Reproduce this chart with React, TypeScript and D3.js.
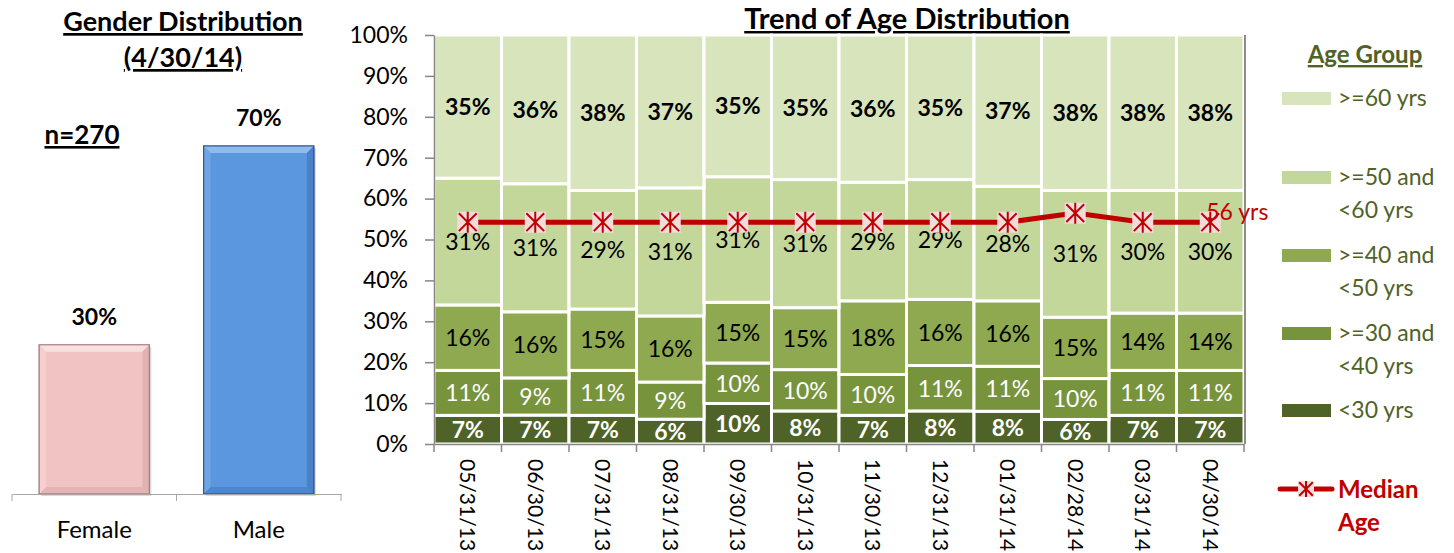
import * as d3 from "d3";
import { useEffect, useRef } from "react";

// Gender chart data
const genderCats = ["Female", "Male"];
const genderVals = [0.3, 0.7];

// Age distribution data (percent, bottom to top)
const dates = [
  "05/31/13", "06/30/13", "07/31/13", "08/31/13", "09/30/13", "10/31/13",
  "11/30/13", "12/31/13", "01/31/14", "02/28/14", "03/31/14", "04/30/14"
];
const under30 = [7, 7, 7, 6, 10, 8, 7, 8, 8, 6, 7, 7];
const age30to40 = [11, 9, 11, 9, 10, 10, 10, 11, 11, 10, 11, 11];
const age40to50 = [16, 16, 15, 16, 15, 15, 18, 16, 16, 15, 14, 14];
const age50to60 = [31, 31, 29, 31, 31, 31, 29, 29, 28, 31, 30, 30];
const over60 = [35, 36, 38, 37, 35, 35, 36, 35, 37, 38, 38, 38];
const medianAge = [56, 56, 56, 56, 56, 56, 56, 56, 56, 57, 56, 56];

const yTicks = [0, 0.1, 0.2, 0.3, 0.4, 0.5, 0.6, 0.7, 0.8, 0.9, 1];

const groupKeys = ["u30", "a30", "a40", "a50", "o60"];
const groupColors = ["#4F6228", "#77933C", "#8EA94F", "#C4D79B", "#D8E4BC"];
const legendLines = [
  [">=60 yrs"],
  [">=50 and", "<60 yrs"],
  [">=40 and", "<50 yrs"],
  [">=30 and", "<40 yrs"],
  ["<30 yrs"],
];

const FONT = "Lato, 'Open Sans', sans-serif";
const RED = "#C00000";
const OLIVE = "#4F6228";

const drawChart = (el: SVGSVGElement) => {
  const svg = d3.select(el);
  svg.selectAll("*").remove();
  svg.style("font-family", FONT);

  // ---------- Gender distribution ----------
  const g1 = svg.append("g");
  const gx = d3.scaleBand().domain(genderCats).range([12, 341]).paddingInner(0.33).paddingOuter(0.165);
  const gy = d3.scaleLinear().domain([0, 0.7]).range([494, 146]);

  g1.append("text").attr("x", 183).attr("y", 31).attr("text-anchor", "middle")
    .style("font-size", "27px").style("font-weight", "bold").style("text-decoration", "underline")
    .text("Gender Distribution");
  g1.append("text").attr("x", 183).attr("y", 67).attr("text-anchor", "middle")
    .style("font-size", "27px").style("font-weight", "bold").style("text-decoration", "underline")
    .text("(4/30/14)");
  g1.append("text").attr("x", 82).attr("y", 144).attr("text-anchor", "middle")
    .style("font-size", "26px").style("font-weight", "bold").style("text-decoration", "underline")
    .text("n=270");

  const palette = [
    { main: "#F2C3C3", light: "#F9E0E0", dark: "#D6A6A6", edge: "#A77C7C" },
    { main: "#5B97DE", light: "#8FBBEE", dark: "#3F75BA", edge: "#2C5590" },
  ];
  const bev = 7;
  genderCats.forEach((c, i) => {
    const x0 = gx(c)!;
    const w = gx.bandwidth();
    const y0 = gy(genderVals[i]);
    const h = gy(0) - y0;
    const p = palette[i];
    g1.append("rect").attr("x", x0 + 2).attr("y", y0 + 2).attr("width", w).attr("height", h)
      .attr("fill", "#000").attr("opacity", 0.15);
    g1.append("rect").attr("x", x0).attr("y", y0).attr("width", w).attr("height", h)
      .attr("fill", p.main).attr("stroke", p.edge).attr("stroke-width", 1);
    const pts = (a: number[][]) => a.map(q => q.join(",")).join(" ");
    g1.append("polygon").attr("fill", p.light)
      .attr("points", pts([[x0, y0], [x0 + w, y0], [x0 + w - bev, y0 + bev], [x0 + bev, y0 + bev]]));
    g1.append("polygon").attr("fill", p.dark).attr("opacity", 0.6)
      .attr("points", pts([[x0 + w, y0], [x0 + w, y0 + h], [x0 + w - bev, y0 + h - bev], [x0 + w - bev, y0 + bev]]));
    g1.append("polygon").attr("fill", p.dark).attr("opacity", 0.5)
      .attr("points", pts([[x0, y0 + h], [x0 + w, y0 + h], [x0 + w - bev, y0 + h - bev], [x0 + bev, y0 + h - bev]]));
    g1.append("polygon").attr("fill", p.light).attr("opacity", 0.4)
      .attr("points", pts([[x0, y0], [x0 + bev, y0 + bev], [x0 + bev, y0 + h - bev], [x0, y0 + h]]));
    g1.append("rect").attr("x", x0).attr("y", y0).attr("width", w).attr("height", h)
      .attr("fill", "none").attr("stroke", p.edge).attr("stroke-width", 1);
    g1.append("text").attr("x", x0 + w / 2).attr("y", y0 - 20).attr("text-anchor", "middle")
      .style("font-size", "23px").style("font-weight", "bold")
      .text(d3.format(".0%")(genderVals[i]));
  });

  const gAxis = g1.append("g").attr("transform", "translate(0,494)")
    .call(d3.axisBottom(gx).tickSize(0).tickSizeOuter(0));
  gAxis.select(".domain").attr("stroke", "#A6A6A6");
  gAxis.selectAll("text").attr("dy", 0).attr("y", 44).style("font-size", "24px").style("font-family", FONT);
  [12, 176.5, 341].forEach(t => {
    g1.append("line").attr("x1", t).attr("x2", t).attr("y1", 494).attr("y2", 501).attr("stroke", "#A6A6A6");
  });

  // ---------- Trend of age distribution ----------
  const g2 = svg.append("g");
  const x = d3.scaleBand().domain(dates).range([434, 1244]).padding(0);
  const y = d3.scaleLinear().domain([0, 1]).range([444, 35]);
  const yMed = d3.scaleLinear().domain([31.6, 76.6]).range([444, 35]);

  g2.append("text").attr("x", 907).attr("y", 29).attr("text-anchor", "middle")
    .style("font-size", "29px").style("font-weight", "bold").style("text-decoration", "underline")
    .text("Trend of Age Distribution");

  const rows = dates.map((d, i) => ({
    date: d, u30: under30[i], a30: age30to40[i], a40: age40to50[i], a50: age50to60[i], o60: over60[i],
  }));
  const series = d3.stack<any>().keys(groupKeys).offset(d3.stackOffsetExpand)(rows);

  const labelStyle = [
    { fill: "#fff", weight: "bold" },
    { fill: "#fff", weight: "normal" },
    { fill: "#000", weight: "normal" },
    { fill: "#000", weight: "normal" },
    { fill: "#000", weight: "bold" },
  ];

  series.forEach((s, k) => {
    const layer = g2.append("g");
    layer.selectAll("rect").data(s).join("rect")
      .attr("x", d => x(d.data.date)!)
      .attr("width", x.bandwidth())
      .attr("y", d => y(d[1]))
      .attr("height", d => y(d[0]) - y(d[1]))
      .attr("fill", groupColors[k])
      .attr("stroke", "#fff").attr("stroke-width", 3);
    layer.selectAll("text").data(s).join("text")
      .attr("x", d => x(d.data.date)! + x.bandwidth() / 2)
      .attr("y", d => (y(d[0]) + y(d[1])) / 2)
      .attr("dy", "0.36em")
      .attr("text-anchor", "middle")
      .style("font-size", "23px")
      .style("font-weight", labelStyle[k].weight)
      .attr("fill", labelStyle[k].fill)
      .text(d => `${(d.data as any)[groupKeys[k]]}%`);
  });

  // right border of plot area
  g2.append("line").attr("x1", 1245).attr("x2", 1245).attr("y1", 35).attr("y2", 444)
    .attr("stroke", "#8C8C8C").attr("stroke-width", 2);

  const yAxis = g2.append("g").attr("transform", "translate(434,0)")
    .call(d3.axisLeft(y).tickValues(yTicks).tickFormat(d3.format(".0%")).tickSize(9).tickSizeOuter(0));
  yAxis.select(".domain").attr("stroke", "#868686").attr("stroke-width", 1.5);
  yAxis.selectAll(".tick line").attr("stroke", "#868686").attr("stroke-width", 1.5);
  yAxis.selectAll("text").attr("x", -26).attr("fill", "#000")
    .style("font-size", "23px").style("font-family", FONT);

  const xAxis = g2.append("g").attr("transform", "translate(0,444)")
    .call(d3.axisBottom(x).tickSize(0).tickSizeOuter(0));
  xAxis.select(".domain").attr("stroke", "#868686").attr("stroke-width", 1.5);
  xAxis.selectAll("text")
    .attr("transform", "rotate(90)")
    .attr("x", 15).attr("y", 0).attr("dy", "0.36em")
    .attr("text-anchor", "start").attr("fill", "#000")
    .style("font-size", "21px").style("font-family", FONT);
  [...dates.map(d => x(d)!), 1244].forEach(t => {
    g2.append("line").attr("x1", t).attr("x2", t).attr("y1", 444).attr("y2", 452)
      .attr("stroke", "#868686").attr("stroke-width", 1.5);
  });

  // median age line
  const cx = (d: string) => x(d)! + x.bandwidth() / 2;
  const line = d3.line<number>().x((_, i) => cx(dates[i])).y(v => yMed(v));
  g2.append("path").datum(medianAge).attr("d", line)
    .attr("fill", "none").attr("stroke", RED).attr("stroke-width", 5);

  const marker = (g: any, px: number, py: number, s: number) => {
    g.append("rect").attr("x", px - s).attr("y", py - s).attr("width", 2 * s).attr("height", 2 * s)
      .attr("fill", "#F2DCDB");
    const a = s * 0.85;
    g.append("path")
      .attr("d", `M${px - a},${py - a}L${px + a},${py + a}M${px + a},${py - a}L${px - a},${py + a}M${px},${py - s}L${px},${py + s}`)
      .attr("stroke", RED).attr("stroke-width", 2).attr("fill", "none");
  };
  medianAge.forEach((v, i) => marker(g2, cx(dates[i]), yMed(v), 10.5));

  const last = medianAge.length - 1;
  g2.append("text").attr("x", cx(dates[last]) - 4).attr("y", yMed(medianAge[last]) - 11)
    .attr("dy", "0.36em").attr("fill", RED).style("font-size", "23px")
    .text(`${medianAge[last]} yrs`);

  // ---------- Legend ----------
  const lg = svg.append("g");
  lg.append("text").attr("x", 1365).attr("y", 63).attr("text-anchor", "middle")
    .attr("fill", OLIVE).style("font-size", "24px").style("font-weight", "bold")
    .style("text-decoration", "underline").text("Age Group");
  const legendY = [98, 177, 255, 333, 410];
  legendLines.forEach((lines, i) => {
    const color = groupColors[groupColors.length - 1 - i];
    lg.append("rect").attr("x", 1282).attr("y", legendY[i] - 6).attr("width", 49).attr("height", 13)
      .attr("fill", color);
    lines.forEach((t, j) => {
      lg.append("text").attr("x", 1338).attr("y", legendY[i] + j * 33).attr("dy", "0.36em")
        .attr("fill", OLIVE).style("font-size", "23px").text(t);
    });
  });
  lg.append("line").attr("x1", 1280).attr("x2", 1332).attr("y1", 489).attr("y2", 489)
    .attr("stroke", RED).attr("stroke-width", 5).attr("stroke-linecap", "round");
  marker(lg, 1306, 489, 8);
  ["Median", "Age"].forEach((t, j) => {
    lg.append("text").attr("x", 1338).attr("y", 489 + j * 33).attr("dy", "0.36em")
      .attr("fill", RED).style("font-size", "24px").style("font-weight", "bold").text(t);
  });
};

export default function App() {
  const ref = useRef<SVGSVGElement>(null);
  useEffect(() => {
    document.body.style.margin = "0";
    if (ref.current) drawChart(ref.current);
  }, []);
  return <svg ref={ref} width={1454} height={553} style={{ display: "block", background: "#fff" }} />;
}
